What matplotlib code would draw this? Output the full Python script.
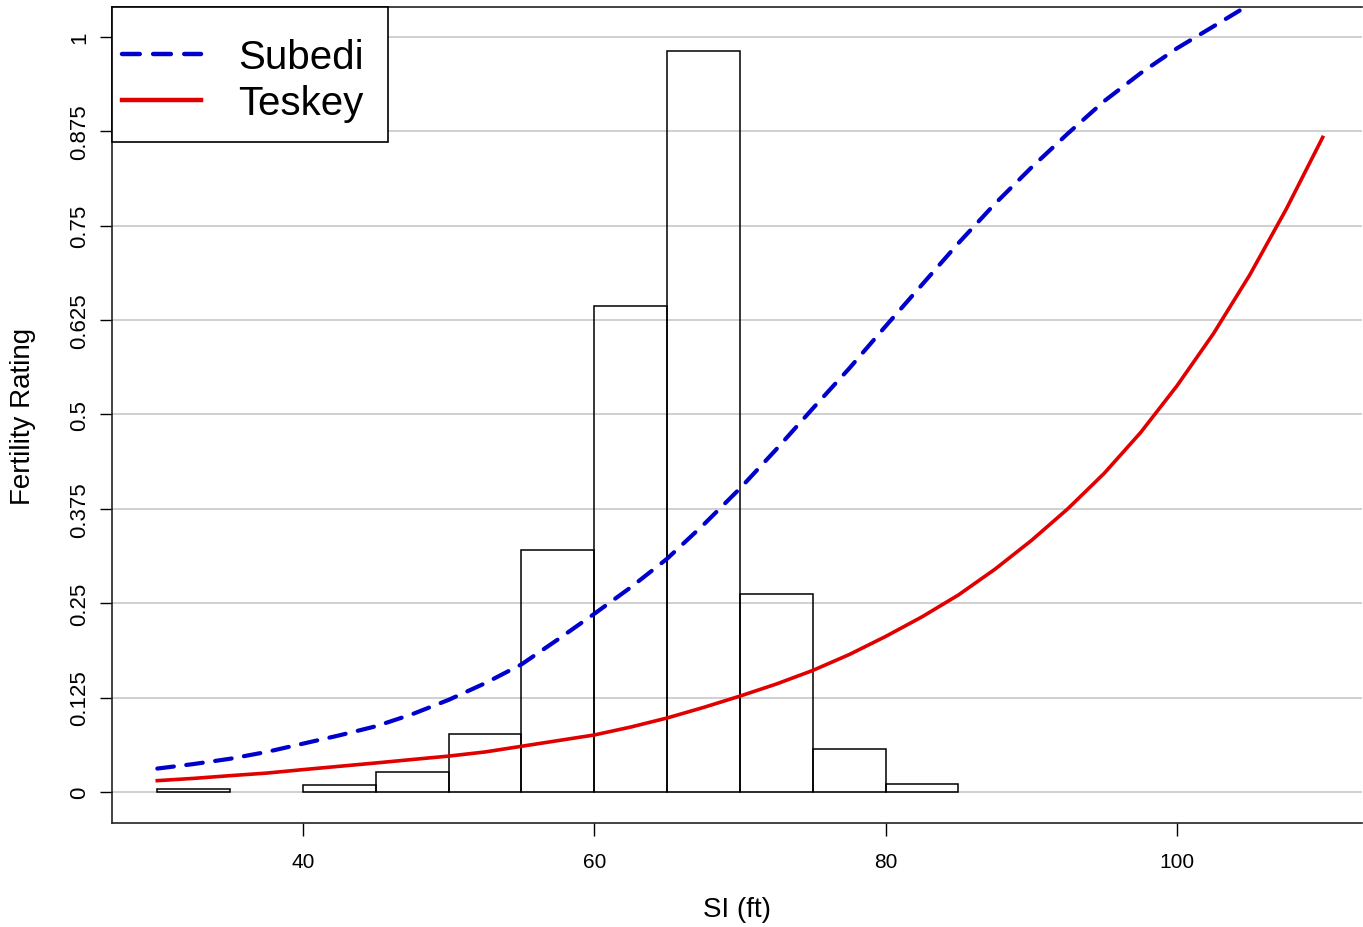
import numpy as np
import matplotlib
matplotlib.use("Agg")
import matplotlib.pyplot as plt
from matplotlib.patches import Rectangle

plt.rcParams['font.family'] = ['Liberation Sans', 'DejaVu Sans']

# histogram of site index (bins of 5 ft), scaled heights
bin_left = [30, 35, 40, 45, 50, 55, 60, 65, 70, 75, 80]
bin_height = [0.004, 0.0, 0.009, 0.027, 0.077, 0.321, 0.644, 0.981, 0.262, 0.057, 0.011]

# fertility rating curves
subedi_si = [30, 32.5, 35, 37.5, 40, 42.5, 45, 47.5, 50, 52.5, 55, 57.5, 60, 62.5,
             65, 67.5, 70, 72.5, 75, 77.5, 80, 82.5, 85, 87.5, 90, 92.5, 95, 97.5,
             100, 102.5, 104.3]
subedi_fr = [0.031, 0.037, 0.044, 0.053, 0.064, 0.075, 0.087, 0.103, 0.122, 0.144,
             0.169, 0.202, 0.236, 0.271, 0.309, 0.354, 0.402, 0.454, 0.508, 0.561,
             0.617, 0.672, 0.727, 0.779, 0.827, 0.872, 0.915, 0.952, 0.985, 1.014,
             1.035]
teskey_si = [30, 32.5, 35, 37.5, 40, 42.5, 45, 47.5, 50, 52.5, 55, 57.5, 60, 62.5,
             65, 67.5, 70, 72.5, 75, 77.5, 80, 82.5, 85, 87.5, 90, 92.5, 95, 97.5,
             100, 102.5, 105, 107.5, 110]
teskey_fr = [0.015, 0.018, 0.0216, 0.025, 0.0296, 0.034, 0.0384, 0.043, 0.0475,
             0.053, 0.0605, 0.068, 0.0755, 0.086, 0.098, 0.112, 0.127, 0.143,
             0.161, 0.182, 0.206, 0.232, 0.261, 0.295, 0.333, 0.375, 0.422, 0.476,
             0.538, 0.607, 0.685, 0.772, 0.867]

yticks = [0, 0.125, 0.25, 0.375, 0.5, 0.625, 0.75, 0.875, 1]
ytick_labels = ['0', '0.125', '0.25', '0.375', '0.5', '0.625', '0.75', '0.875', '1']
xticks = [40, 60, 80, 100]

fig = plt.figure(figsize=(13.63, 9.28), dpi=100)
ax = fig.add_axes([112 / 1363, 104 / 928, 1250 / 1363, 816 / 928])

for y in yticks:
    ax.axhline(y, color='#c8c8c8', lw=1.2, zorder=0)

bl = [b for b, h in zip(bin_left, bin_height) if h > 0]
bh = [h for h in bin_height if h > 0]
ax.bar(bl, bh, width=5, align='edge', fill=False, edgecolor='black', lw=1.1, zorder=2)

ax.plot(subedi_si, subedi_fr, color='#0000cc', lw=3, ls=(0, (4, 3)),
        dash_capstyle='round', label='Subedi', zorder=3)
ax.plot(teskey_si, teskey_fr, color='#e00000', lw=2.6, label='Teskey', zorder=3)

ax.set_xlim(26.89, 112.7)
ax.set_ylim(-0.0411, 1.0397)
ax.set_xticks(xticks)
ax.set_yticks(yticks)
ax.set_yticklabels(ytick_labels, rotation=90, va='center')
ax.tick_params(axis='both', length=9, width=1, labelsize=15, colors='black')
ax.tick_params(axis='y', labelsize=16, pad=7)
ax.tick_params(axis='x', pad=12)

ax.spines['right'].set_visible(False)
for s in ['left', 'bottom', 'top']:
    ax.spines[s].set_linewidth(1.2)
    ax.spines[s].set_color('#222222')

ax.set_xlabel('SI (ft)', fontsize=20, va='center')
ax.xaxis.set_label_coords(0.5, -0.105)
ax.set_ylabel('Fertility Rating', fontsize=20, va='center')
ax.yaxis.set_label_coords(-0.0715, 0.5)

# legend box like R's legend()
ax.add_patch(Rectangle((0, (824 - 143) / 816), (388 - 112) / 1250, (143 - 8) / 816,
                       transform=ax.transAxes, fill=True, facecolor='white',
                       edgecolor='black', lw=1.2, zorder=5, clip_on=False))
leg = ax.legend(loc='upper left', bbox_to_anchor=((122 - 112) / 1250, (824 - 39) / 816),
                fontsize=29, frameon=False, borderaxespad=0, borderpad=0,
                handlelength=1.95, handletextpad=0.93, labelspacing=0.2)
for h in leg.get_lines():
    h.set_linewidth(3.2)
leg.set_zorder(6)

fig.savefig('out.png', dpi=100)
